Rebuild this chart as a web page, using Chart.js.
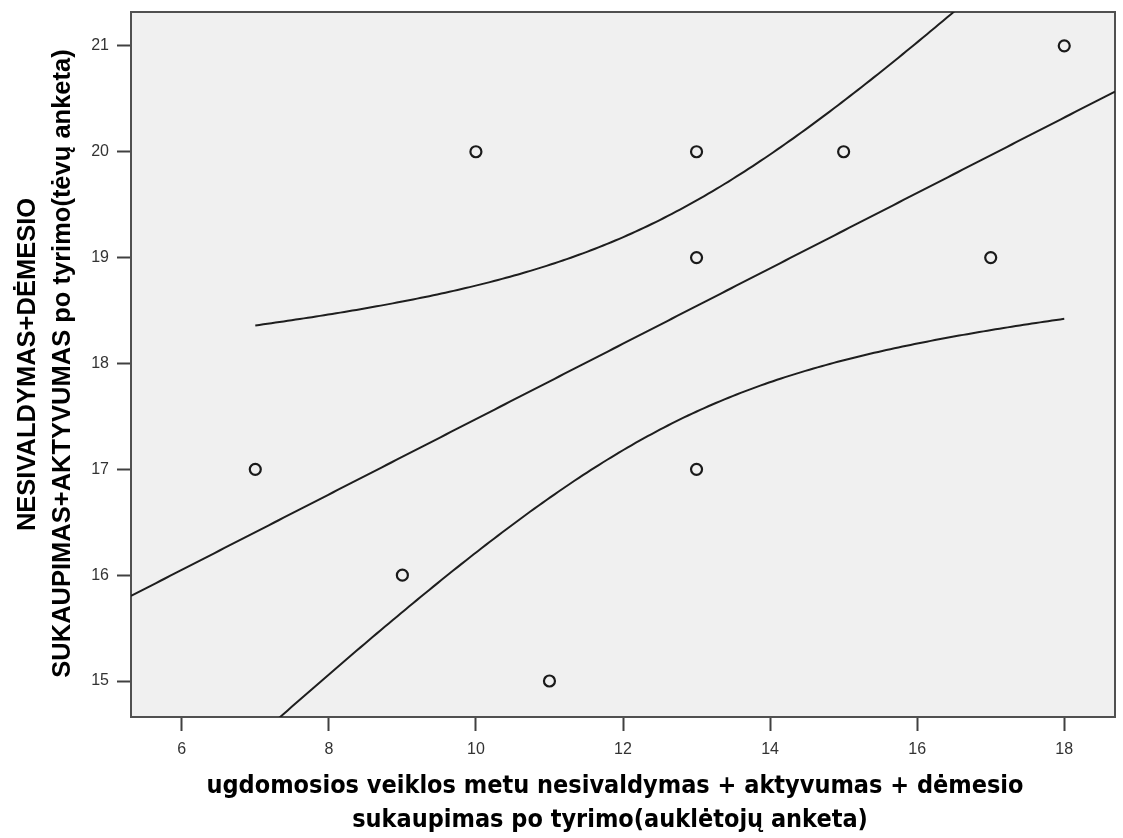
<!DOCTYPE html>
<html>
<head>
<meta charset="utf-8">
<script src="https://cdn.jsdelivr.net/npm/chart.js@4.4.1/dist/chart.umd.min.js"></script>
<style>
  html, body { margin: 0; padding: 0; background: #ffffff; }
  #wrap { width: 1123px; height: 838px; }
</style>
</head>
<body>
<div id="wrap"><canvas id="c" width="1123" height="838"></canvas></div>
<script>
// Observed cases: teacher questionnaire score (x) vs. parent questionnaire score (y)
const teacherScores = [7, 9, 10, 11, 13, 13, 13, 15, 17, 18];
const parentScores  = [17, 16, 20, 15, 20, 19, 17, 20, 19, 21];

// Axis ticks
const xTickValues = [6, 8, 10, 12, 14, 16, 18];
const yTickValues = [15, 16, 17, 18, 19, 20, 21];

// Axis titles
const xTitleLines = [
  'ugdomosios veiklos metu nesivaldymas + aktyvumas + dėmesio',
  'sukaupimas po tyrimo(auklėtojų anketa)'
];
const yTitleLines = [
  'NESIVALDYMAS+DĖMESIO',
  'SUKAUPIMAS+AKTYVUMAS po tyrimo(tėvų anketa)'
];

// Axis extents
const X_MIN = 5.31, X_MAX = 18.69;
const Y_MIN = 14.66, Y_MAX = 21.32;

// Two-sided 90% Student t critical value for n - 2 = 8 degrees of freedom
const T_CRIT = 1.860;

// Least-squares line with confidence band for the mean
function fitLinear(xs, ys) {
  const n = xs.length;
  const mx = xs.reduce((a, b) => a + b, 0) / n;
  const my = ys.reduce((a, b) => a + b, 0) / n;
  let sxx = 0, sxy = 0;
  for (let i = 0; i < n; i++) {
    sxx += (xs[i] - mx) * (xs[i] - mx);
    sxy += (xs[i] - mx) * (ys[i] - my);
  }
  const slope = sxy / sxx;
  const intercept = my - slope * mx;
  let sse = 0;
  for (let i = 0; i < n; i++) {
    const r = ys[i] - (intercept + slope * xs[i]);
    sse += r * r;
  }
  const s = Math.sqrt(sse / (n - 2));
  return {
    predict: x => intercept + slope * x,
    half: x => T_CRIT * s * Math.sqrt(1 / n + (x - mx) * (x - mx) / sxx)
  };
}

const fit = fitLinear(teacherScores, parentScores);
const xLo = Math.min(...teacherScores), xHi = Math.max(...teacherScores);

const fitLine = [], upperBand = [], lowerBand = [];
for (let i = 0; i <= 200; i++) {
  const x = X_MIN + (X_MAX - X_MIN) * i / 200;
  fitLine.push({ x, y: fit.predict(x) });
}
for (let i = 0; i <= 200; i++) {
  const x = xLo + (xHi - xLo) * i / 200;
  upperBand.push({ x, y: fit.predict(x) + fit.half(x) });
  lowerBand.push({ x, y: fit.predict(x) - fit.half(x) });
}

const points = teacherScores.map((x, i) => ({ x, y: parentScores[i] }));

const PLOT_LEFT = 131, PLOT_BOTTOM = 717;

// Plot background and frame
const framePlugin = {
  id: 'frame',
  beforeDatasetsDraw(chart) {
    const { ctx, chartArea: a } = chart;
    ctx.save();
    ctx.fillStyle = '#f0f0f0';
    ctx.fillRect(a.left, a.top, a.right - a.left, a.bottom - a.top);
    ctx.strokeStyle = '#505050';
    ctx.lineWidth = 2;
    ctx.strokeRect(a.left, a.top, a.right - a.left, a.bottom - a.top);
    ctx.restore();
  }
};

// Multi-line axis titles
const titlePlugin = {
  id: 'axisTitles',
  afterDraw(chart) {
    const { ctx, chartArea: a } = chart;
    ctx.save();
    ctx.fillStyle = '#000000';
    ctx.textAlign = 'center';
    ctx.textBaseline = 'alphabetic';
    ctx.font = 'bold 25px "DejaVu Sans Condensed"';
    ctx.fillText(xTitleLines[0], 615, 793);
    ctx.fillText(xTitleLines[1], 610, 827);
    ctx.translate(0, (a.top + a.bottom) / 2);
    ctx.rotate(-Math.PI / 2);
    ctx.font = 'bold 25.5px "Liberation Sans"';
    ctx.fillText(yTitleLines[0], 0, 35);
    ctx.fillText(yTitleLines[1], 1, 70);
    ctx.restore();
  }
};

const lineStyle = {
  type: 'line',
  borderColor: '#1e1e1e',
  borderWidth: 2,
  pointRadius: 0,
  fill: false,
  tension: 0
};

const tickFont = { family: 'Liberation Sans', size: 16 };

new Chart(document.getElementById('c'), {
  type: 'scatter',
  data: {
    datasets: [
      Object.assign({ label: 'Linear fit', data: fitLine }, lineStyle),
      Object.assign({ label: 'Upper 90% CI', data: upperBand }, lineStyle),
      Object.assign({ label: 'Lower 90% CI', data: lowerBand }, lineStyle),
      {
        label: 'Cases',
        data: points,
        pointStyle: 'circle',
        pointRadius: 5.5,
        pointBorderWidth: 2.2,
        pointBackgroundColor: '#f0f0f0',
        pointBorderColor: '#1a1a1a'
      }
    ]
  },
  options: {
    responsive: false,
    animation: false,
    devicePixelRatio: 1,
    layout: { padding: { top: 12, right: 8, left: 0, bottom: 0 } },
    plugins: { legend: { display: false }, tooltip: { enabled: false } },
    scales: {
      x: {
        type: 'linear',
        min: X_MIN,
        max: X_MAX,
        afterBuildTicks: s => { s.ticks = xTickValues.map(v => ({ value: v })); },
        afterFit: s => { s.height = 838 - PLOT_BOTTOM; s.paddingLeft = 0; s.paddingRight = 0; },
        grid: { drawOnChartArea: false, drawTicks: true, tickLength: 14, tickWidth: 2, tickColor: '#404040' },
        border: { display: false },
        ticks: { color: '#333333', padding: 9, font: tickFont }
      },
      y: {
        type: 'linear',
        min: Y_MIN,
        max: Y_MAX,
        afterBuildTicks: s => { s.ticks = yTickValues.map(v => ({ value: v })); },
        afterFit: s => { s.width = PLOT_LEFT; s.paddingTop = 0; s.paddingBottom = 0; },
        grid: { drawOnChartArea: false, drawTicks: true, tickLength: 14, tickWidth: 2, tickColor: '#404040' },
        border: { display: false },
        ticks: { color: '#333333', padding: 8, font: tickFont }
      }
    }
  },
  plugins: [framePlugin, titlePlugin]
});
</script>
</body>
</html>
